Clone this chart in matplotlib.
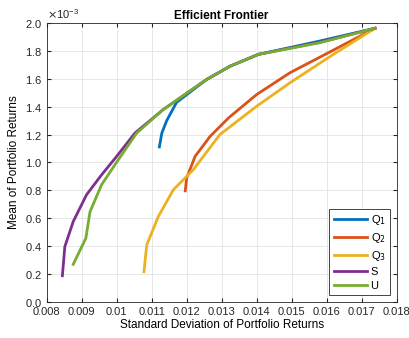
import numpy as np
import matplotlib
matplotlib.use('Agg')
import matplotlib.pyplot as plt
from matplotlib import ticker

plt.rcParams['font.family'] = ['Liberation Sans', 'DejaVu Sans']

# standard deviation / mean of portfolio returns
q1_x = [0.01122, 0.01129, 0.01143, 0.01171, 0.01257, 0.01324, 0.01405, 0.01581, 0.01738]
q1_y = [1.111e-3, 1.21e-3, 1.30e-3, 1.43e-3, 1.595e-3, 1.69e-3, 1.775e-3, 1.871e-3, 1.962e-3]

q2_x = [0.01196, 0.0120, 0.01224, 0.01267, 0.01320, 0.0140, 0.01495, 0.01605, 0.01738]
q2_y = [0.796e-3, 0.888e-3, 1.043e-3, 1.187e-3, 1.32e-3, 1.487e-3, 1.643e-3, 1.787e-3, 1.962e-3]

q3_x = [0.01078, 0.01086, 0.01119, 0.01162, 0.01219, 0.01295, 0.0140, 0.01495, 0.01619, 0.01738]
q3_y = [0.216e-3, 0.408e-3, 0.612e-3, 0.804e-3, 0.948e-3, 1.20e-3, 1.403e-3, 1.571e-3, 1.775e-3, 1.962e-3]

s_x = [0.00845, 0.00852, 0.00876, 0.00914, 0.00957, 0.0100, 0.01052, 0.01133, 0.01257, 0.01324, 0.01405, 0.01581, 0.01738]
s_y = [0.187e-3, 0.396e-3, 0.576e-3, 0.768e-3, 0.911e-3, 1.043e-3, 1.21e-3, 1.379e-3, 1.595e-3, 1.69e-3, 1.775e-3, 1.862e-3, 1.962e-3]

u_x = [0.00876, 0.00912, 0.00924, 0.00957, 0.00995, 0.01057, 0.01133, 0.01257, 0.01324, 0.01405, 0.01581, 0.01738]
u_y = [0.269e-3, 0.456e-3, 0.647e-3, 0.84e-3, 0.983e-3, 1.21e-3, 1.379e-3, 1.595e-3, 1.69e-3, 1.775e-3, 1.859e-3, 1.962e-3]

fig = plt.figure(figsize=(4.09, 3.38), dpi=100)
ax = fig.add_axes([0.114, 0.107, 0.856, 0.825])

ax.plot(q1_x, q1_y, color='#0072BD', lw=2, label='Q$_1$')
ax.plot(q2_x, q2_y, color='#D95319', lw=2, label='Q$_2$')
ax.plot(q3_x, q3_y, color='#EDB120', lw=2, label='Q$_3$')
ax.plot(s_x, s_y, color='#7E2F8E', lw=2, label='S')
ax.plot(u_x, u_y, color='#77AC30', lw=2, label='U')

ax.set_xlim(0.008, 0.018)
ax.set_ylim(0, 2e-3)
ax.set_xticks(np.arange(0.008, 0.0181, 0.001))
ax.xaxis.set_major_formatter(ticker.FuncFormatter(lambda v, p: ('%.3f' % v).rstrip('0')))
ax.set_yticks(np.arange(0, 2.01e-3, 0.2e-3))
fmt = ticker.ScalarFormatter(useMathText=True)
fmt.set_powerlimits((-2, 2))
ax.yaxis.set_major_formatter(fmt)
ax.yaxis.get_offset_text().set_fontsize(8)

ax.tick_params(direction='in', top=True, right=True, labelsize=8, length=3, colors='#262626')
ax.grid(True, color='#e3e3e3', lw=0.6)
for sp in ax.spines.values():
    sp.set_color('#262626')
    sp.set_linewidth(0.6)

ax.set_title('Efficient Frontier', fontsize=8.5, fontweight='bold', pad=3)
ax.set_xlabel('Standard Deviation of Portfolio Returns', fontsize=8.5, labelpad=2)
ax.set_ylabel('Mean of Portfolio Returns', fontsize=8.5, labelpad=3)

leg = ax.legend(loc='lower right', fontsize=8, fancybox=False, framealpha=1,
                edgecolor='#262626', handlelength=3, borderaxespad=0.6,
                labelspacing=0.35, handletextpad=0.3)
leg.get_frame().set_linewidth(0.6)

fig.savefig('out.png', dpi=100)
